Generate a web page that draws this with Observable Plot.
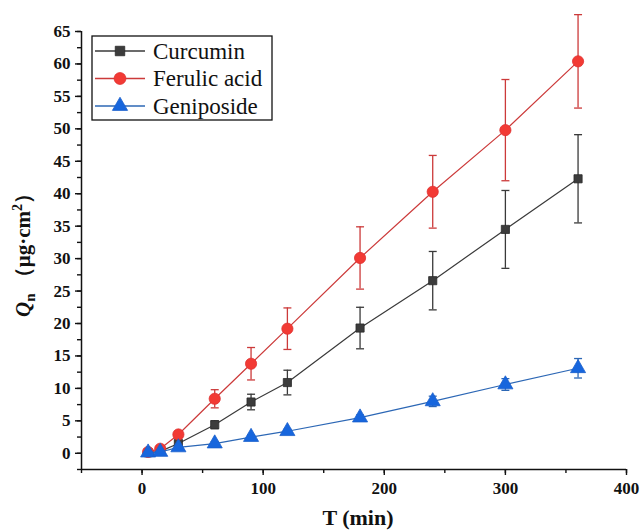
<!DOCTYPE html>
<html>
<head>
<meta charset="utf-8">
<script src="https://cdn.jsdelivr.net/npm/d3@7"></script>
<script src="https://cdn.jsdelivr.net/npm/@observablehq/plot@0.6"></script>
<style>
  html, body { margin: 0; padding: 0; background: #fff; }
  svg text, svg tspan { font-family: "Liberation Serif", "DejaVu Serif", serif; }
</style>
</head>
<body>
<div id="chart"></div>
<script>
// ---- data ----
const times = [5, 15, 30, 60, 90, 120, 180, 240, 300, 360];
const seriesNames = ["Curcumin", "Ferulic acid", "Geniposide"];
const curcumin      = [0.1, 0.3, 1.5, 4.4, 7.9, 10.9, 19.3, 26.6, 34.5, 42.3];
const curcuminErr   = [0.1, 0.2, 0.4, 0.6, 1.2, 1.9, 3.2, 4.5, 6.0, 6.8];
const ferulic       = [0.2, 0.7, 2.9, 8.4, 13.8, 19.2, 30.1, 40.3, 49.8, 60.4];
const ferulicErr    = [0.1, 0.3, 0.5, 1.4, 2.5, 3.2, 4.8, 5.6, 7.8, 7.2];
const geniposide    = [0.1, 0.2, 0.9, 1.5, 2.5, 3.4, 5.5, 8.0, 10.6, 13.1];
const geniposideErr = [0.05, 0.1, 0.2, 0.3, 0.3, 0.3, 0.4, 0.8, 0.9, 1.5];
const xTicks = [0, 100, 200, 300, 400];
const yTicks = [0, 5, 10, 15, 20, 25, 30, 35, 40, 45, 50, 55, 60, 65];

const colors = {
  "Curcumin":     {line: "#3a3a3a", fill: "#3c3c3c", stroke: "#2a2a2a", symbol: "square",   r: 4.6},
  "Ferulic acid": {line: "#cc3a3a", fill: "#f23a34", stroke: "#e03030", symbol: "circle",   r: 5.6},
  "Geniposide":   {line: "#2c67b5", fill: "#1766dd", stroke: "#1a5fcc", symbol: "triangle", r: 5.6}
};

const values = [curcumin, ferulic, geniposide];
const errs = [curcuminErr, ferulicErr, geniposideErr];
const data = [];
seriesNames.forEach((s, i) => {
  times.forEach((t, j) => {
    data.push({series: s, t, q: values[i][j], lo: values[i][j] - errs[i][j], hi: values[i][j] + errs[i][j]});
  });
});

// horizontal cap symbol for error bars
const capSymbol = {
  draw(ctx, size) {
    const w = Math.sqrt(size) / 2;
    ctx.moveTo(-w, 0);
    ctx.lineTo(w, 0);
  }
};

const marks = [];
// axis lines
marks.push(Plot.ruleY([-2.5], {stroke: "#111", strokeWidth: 1.5}));
marks.push(Plot.ruleX([-50], {stroke: "#111", strokeWidth: 1.5}));
// minor ticks
marks.push(Plot.axisX({ticks: d3.range(-50, 401, 50), tickSize: 4, tickFormat: () => "", label: null, strokeWidth: 1.4}));
marks.push(Plot.axisY({ticks: d3.range(-2.5, 65.1, 2.5), tickSize: 4, tickFormat: () => "", label: null, strokeWidth: 1.4}));
// major ticks with labels
marks.push(Plot.axisX({ticks: xTicks, tickSize: 6, tickPadding: 6, strokeWidth: 1.4, label: null, fontSize: 17, fontWeight: "bold"}));
marks.push(Plot.axisY({ticks: yTicks, tickSize: 6, tickPadding: 5, strokeWidth: 1.4, label: null, fontSize: 17, fontWeight: "bold"}));

seriesNames.forEach((s) => {
  const d = data.filter(e => e.series === s);
  const c = colors[s];
  marks.push(Plot.ruleX(d, {x: "t", y1: "lo", y2: "hi", stroke: c.line, strokeWidth: 1.3}));
  marks.push(Plot.dot(d, {x: "t", y: "lo", symbol: capSymbol, r: 4.5, stroke: c.line, strokeWidth: 1.3}));
  marks.push(Plot.dot(d, {x: "t", y: "hi", symbol: capSymbol, r: 4.5, stroke: c.line, strokeWidth: 1.3}));
});
seriesNames.forEach((s) => {
  const d = data.filter(e => e.series === s);
  const c = colors[s];
  marks.push(Plot.line(d, {x: "t", y: "q", stroke: c.line, strokeWidth: 1.2}));
  marks.push(Plot.dot(d, {x: "t", y: "q", symbol: c.symbol, r: c.r, fill: c.fill, stroke: c.stroke, strokeWidth: 0.8}));
});

const font = "Liberation Serif, DejaVu Serif, serif";

const svg = Plot.plot({
  width: 641,
  height: 531,
  marginLeft: 81,
  marginRight: 15,
  marginTop: 31,
  marginBottom: 62,
  x: {domain: [-50, 400], axis: null},
  y: {domain: [-2.5, 65], axis: null},
  style: {fontFamily: font, fontSize: "17px", fontWeight: "bold", color: "#111", background: "#fff"},
  marks
});

const root = d3.select(svg);

// x axis title
root.append("text")
  .attr("x", 358).attr("y", 525)
  .attr("text-anchor", "middle")
  .attr("font-family", font).attr("font-size", 22).attr("font-weight", "bold")
  .attr("fill", "#111")
  .text("T (min)");

// y axis title
const yl = root.append("text")
  .attr("transform", "translate(30,250) rotate(-90)")
  .attr("text-anchor", "middle")
  .attr("font-family", font).attr("font-size", 21).attr("font-weight", "bold")
  .attr("fill", "#111");
yl.append("tspan").attr("font-style", "italic").text("Q");
yl.append("tspan").attr("font-size", 15).attr("dy", 5).text("n");
yl.append("tspan").attr("dy", -5).text(" （μg·cm");
yl.append("tspan").attr("font-size", 14).attr("dy", -8).text("2");
yl.append("tspan").attr("dy", 8).text("）");

// legend
const lg = root.append("g");
lg.append("rect").attr("x", 92).attr("y", 36).attr("width", 180).attr("height", 84)
  .attr("fill", "#fff").attr("stroke", "#111").attr("stroke-width", 1.3);
seriesNames.forEach((s, i) => {
  const c = colors[s];
  const y = 51 + i * 27.5;
  lg.append("line").attr("x1", 95).attr("x2", 145).attr("y1", y).attr("y2", y)
    .attr("stroke", c.line).attr("stroke-width", 1.3);
  const symType = c.symbol === "square" ? d3.symbolSquare : c.symbol === "circle" ? d3.symbolCircle : d3.symbolTriangle;
  const size = c.symbol === "square" ? 90 : c.symbol === "circle" ? 110 : 100;
  lg.append("path").attr("d", d3.symbol(symType, size)())
    .attr("transform", `translate(120,${y})`)
    .attr("fill", c.fill).attr("stroke", c.stroke).attr("stroke-width", 0.8);
  lg.append("text").attr("x", 153).attr("y", y + 7.5)
    .attr("text-anchor", "start")
    .attr("font-family", font).attr("font-size", 23).attr("font-weight", "normal")
    .attr("fill", "#111").text(s);
});

document.getElementById("chart").appendChild(svg);
</script>
</body>
</html>
